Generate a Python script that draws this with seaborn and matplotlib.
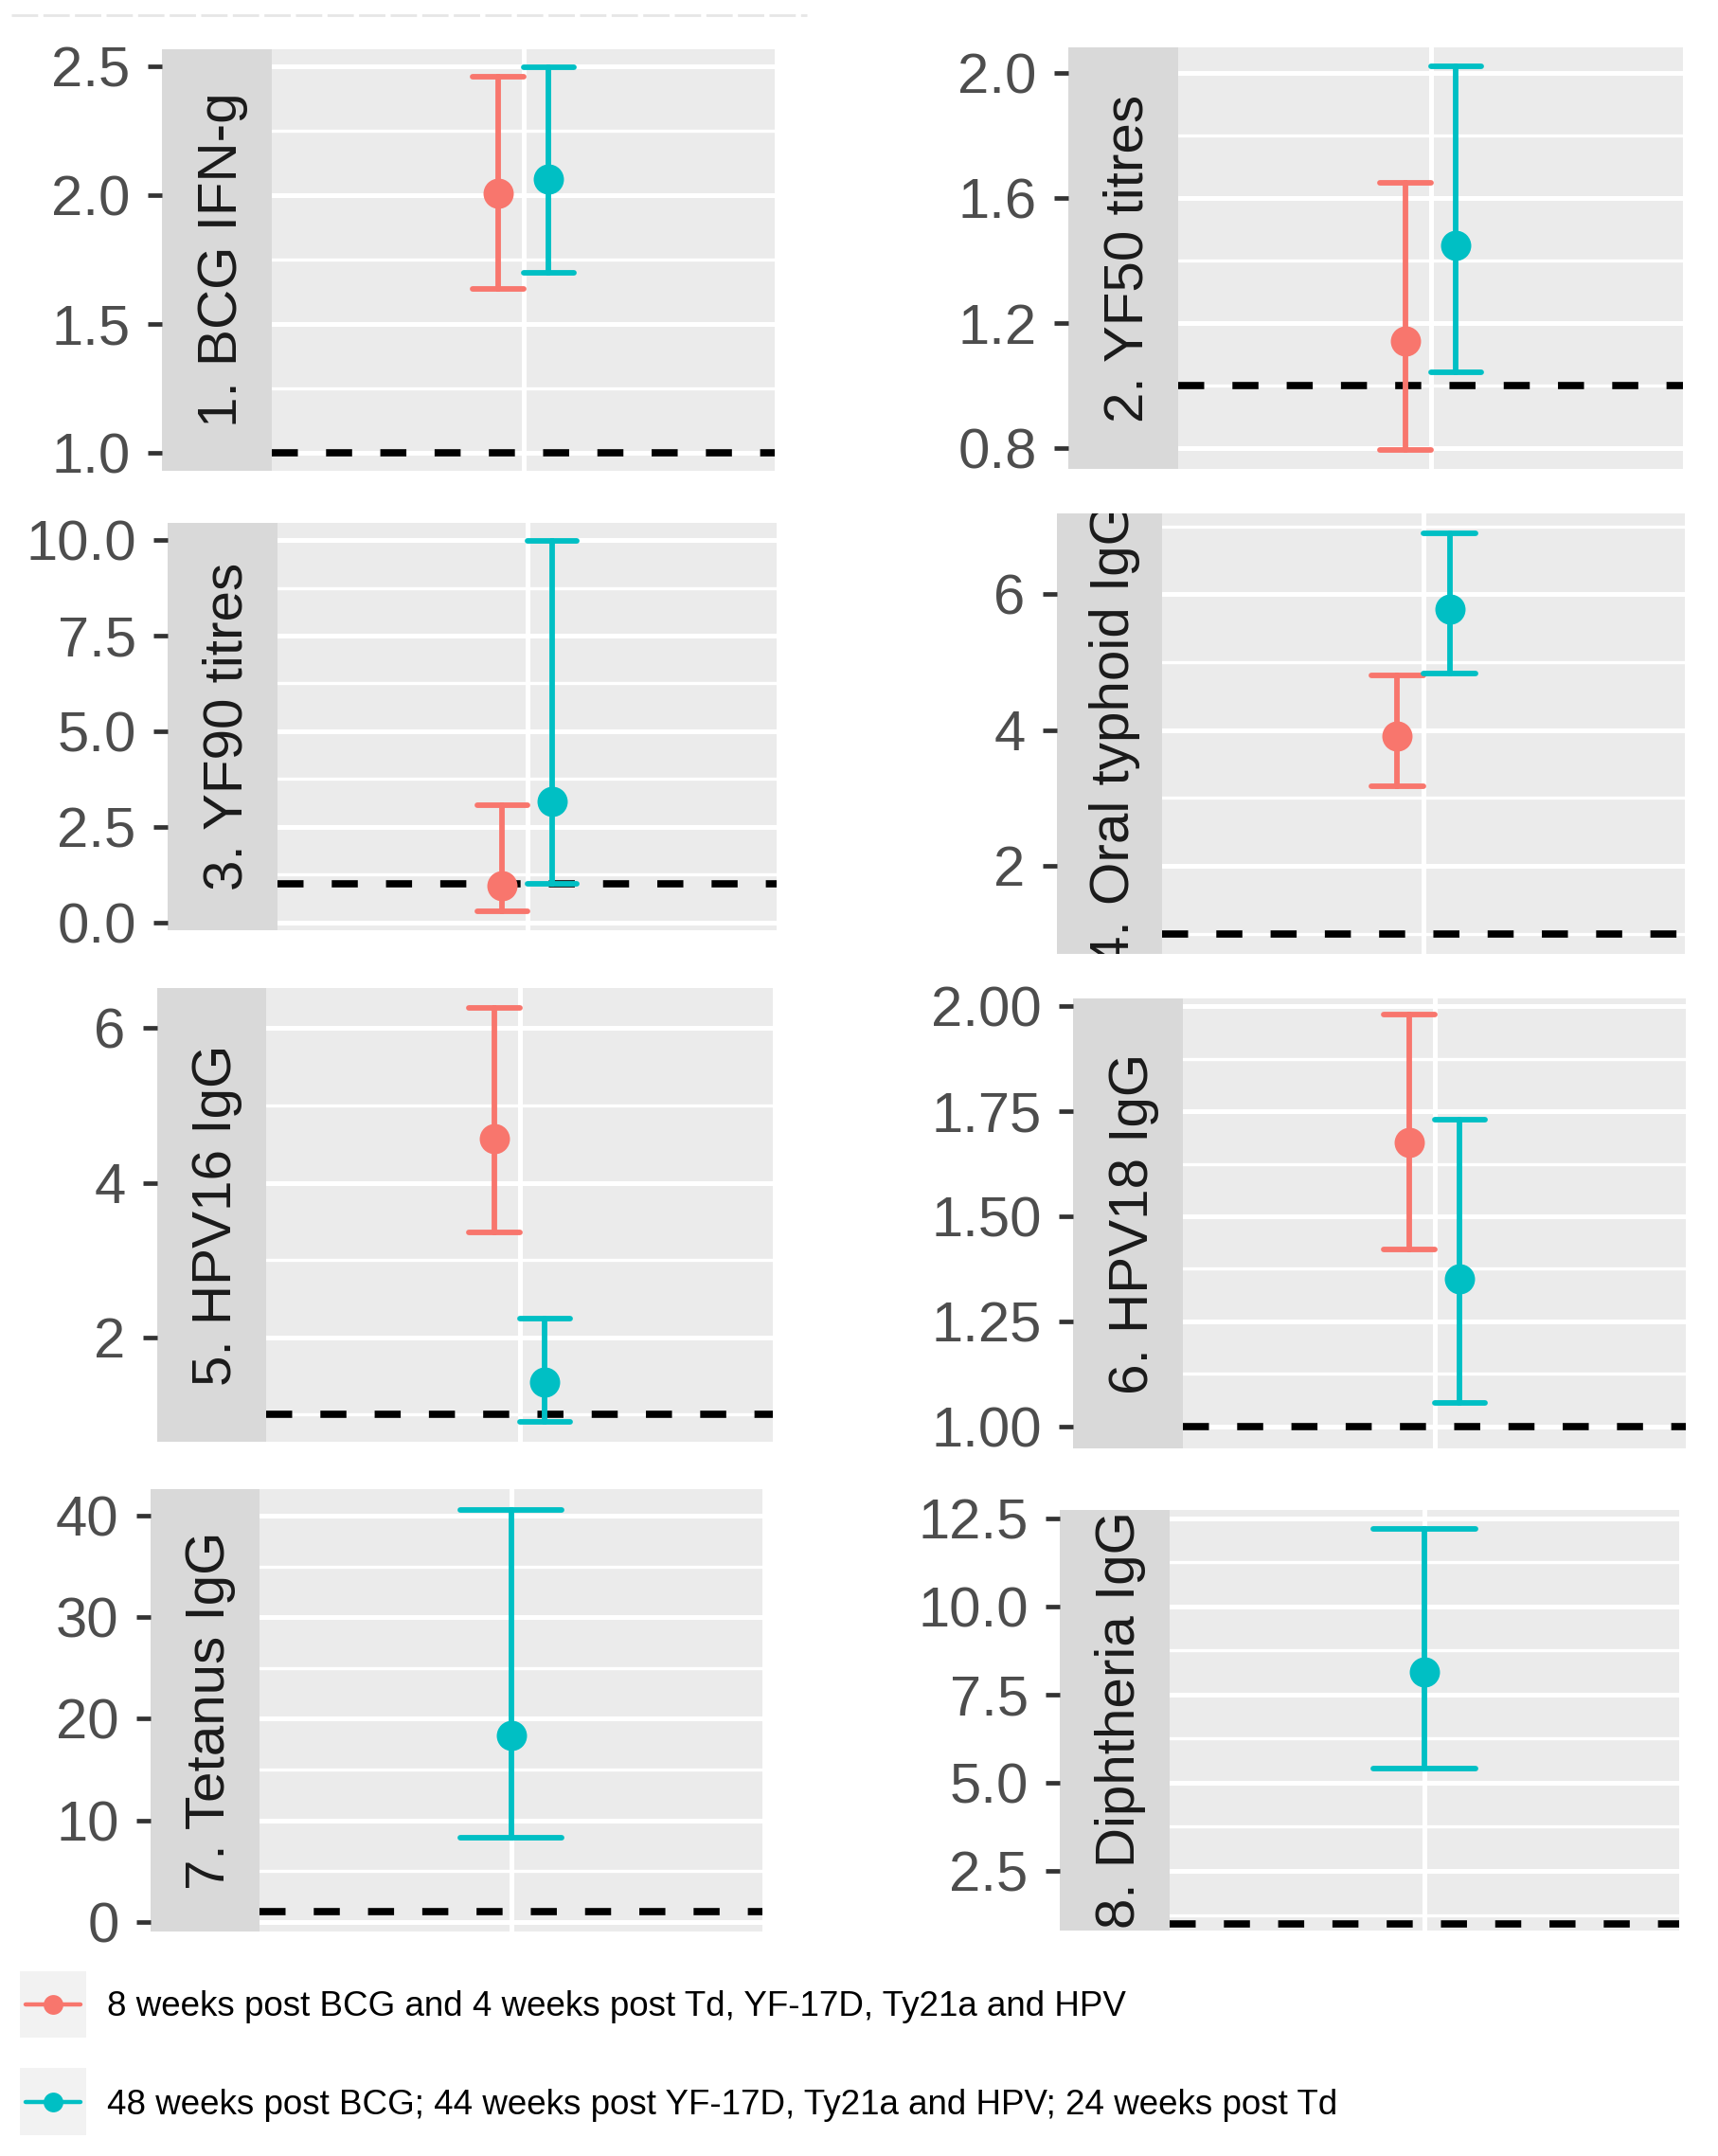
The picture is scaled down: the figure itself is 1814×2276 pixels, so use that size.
import numpy as np
import pandas as pd
import matplotlib
matplotlib.use("Agg")
import matplotlib.pyplot as plt
from matplotlib.ticker import AutoMinorLocator
from matplotlib.lines import Line2D
import seaborn as sns

# ---- data ----
panel_titles = ["1. BCG IFN-g", "2. YF50 titres", "3. YF90 titres", "4. Oral typhoid IgG",
                "5. HPV16 IgG", "6. HPV18 IgG", "7. Tetanus IgG", "8. Diphtheria IgG"]
visit_labels = ["8 weeks post BCG and 4 weeks post Td, YF-17D, Ty21a and HPV",
                "48 weeks post BCG; 44 weeks post YF-17D, Ty21a and HPV; 24 weeks post Td"]

nan = np.nan
wk8_est = [2.01, 1.144, 0.95, 3.91, 4.57, 1.676, nan, nan]
wk8_lo = [1.635, 0.793, 0.28, 3.17, 3.36, 1.42, nan, nan]
wk8_hi = [2.46, 1.649, 3.05, 4.81, 6.26, 1.98, nan, nan]
wk48_est = [2.064, 1.450, 3.15, 5.78, 1.42, 1.352, 18.4, 8.13]
wk48_lo = [1.70, 1.043, 1.00, 4.83, 0.91, 1.055, 8.3, 5.39]
wk48_hi = [2.498, 2.022, 9.98, 6.90, 2.24, 1.729, 40.56, 12.2]
ref_value = 1.0

y_ticks = [[1.0, 1.5, 2.0, 2.5], [0.8, 1.2, 1.6, 2.0], [0.0, 2.5, 5.0, 7.5, 10.0], [2, 4, 6],
           [2, 4, 6], [1.00, 1.25, 1.50, 1.75, 2.00], [0, 10, 20, 30, 40], [2.5, 5.0, 7.5, 10.0, 12.5]]
y_fmt = ["{:.1f}", "{:.1f}", "{:.1f}", "{:.0f}", "{:.0f}", "{:.2f}", "{:.0f}", "{:.1f}"]
y_lims = [(0.929, 2.568), (0.733, 2.083), (-0.21, 10.45), (0.70, 7.19),
          (0.65, 6.52), (0.947, 2.019), (-0.93, 42.6), (0.81, 12.73)]

# ---- layout (pixels in the 1814x2276 canvas): strip left, panel left, panel right, top, bottom ----
W, H = 1814, 2276
boxes = [(171, 287, 818, 52, 497), (1128, 1244, 1777, 50, 495),
         (177, 293, 820, 552, 982), (1116, 1227, 1779, 542, 1007),
         (166, 281, 816, 1043, 1522), (1133, 1249, 1780, 1054, 1529),
         (159, 274, 805, 1572, 2039), (1119, 1235, 1773, 1594, 2038)]

colors = ["#F8766D", "#00BFC4"]
panel_bg = "#EBEBEB"
strip_bg = "#D9D9D9"

sns.set_theme(style="darkgrid", rc={"axes.facecolor": panel_bg, "grid.color": "white"})
plt.rcParams["font.family"] = ["Liberation Sans", "DejaVu Sans"]


def frac(l, r, t, b):
    return [l / W, 1 - b / H, (r - l) / W, (b - t) / H]


fig = plt.figure(figsize=(W / 100, H / 100), dpi=100)
fig.patch.set_facecolor("white")

for i, title in enumerate(panel_titles):
    sl, pl, pr, pt, pb = boxes[i]
    ax = fig.add_axes(frac(pl, pr, pt, pb))

    rows = []
    groups = []
    if not np.isnan(wk8_est[i]):
        groups.append(0)
        for v in (wk8_lo[i], wk8_est[i], wk8_hi[i]):
            rows.append({"assay": title, "visit": visit_labels[0], "value": v})
    groups.append(1)
    for v in (wk48_lo[i], wk48_est[i], wk48_hi[i]):
        rows.append({"assay": title, "visit": visit_labels[1], "value": v})
    df = pd.DataFrame(rows)

    two = len(groups) == 2
    ax.axhline(ref_value, color="black", lw=5.5, linestyle=(0, (3.6, 3.9)), zorder=1.5)
    sns.pointplot(data=df, x="assay", y="value", hue="visit",
                  hue_order=[visit_labels[g] for g in groups],
                  palette=[colors[g] for g in groups],
                  estimator="median", errorbar=lambda v: (v.min(), v.max()),
                  dodge=0.1 if two else False, capsize=0.1 if two else 0.2,
                  linestyle="none", markersize=23, markeredgewidth=0,
                  err_kws={"linewidth": 4.2}, legend=False, ax=ax)

    ax.set_ylim(*y_lims[i])
    ax.set_yticks(y_ticks[i])
    ax.yaxis.set_minor_locator(AutoMinorLocator(2))
    ax.set_xlabel("")
    ax.set_ylabel("")
    ax.set_xticks([0])
    ax.tick_params(axis="x", length=0, labelbottom=False)
    ax.tick_params(axis="y", which="both", length=0, labelleft=False)
    ax.grid(False)
    ax.yaxis.grid(True, which="major", color="white", lw=3.6)
    ax.yaxis.grid(True, which="minor", color="white", lw=2.4)
    ax.xaxis.grid(True, which="major", color="white", lw=3.6)
    ax.set_axisbelow(True)
    for s in ax.spines.values():
        s.set_visible(False)

    # strip on the left, between the axis and the panel
    st = fig.add_axes(frac(sl, pl, pt, pb), sharey=ax)
    st.set_facecolor(strip_bg)
    st.grid(False)
    for s in st.spines.values():
        s.set_visible(False)
    st.set_xticks([])
    st.set_yticks(y_ticks[i], labels=[y_fmt[i].format(t) for t in y_ticks[i]])
    st.tick_params(axis="y", which="major", length=11, width=3.4, color="#333333",
                   pad=13, labelsize=43, labelcolor="#4D4D4D", left=True, labelleft=True)
    st.tick_params(axis="y", which="minor", length=0)
    st.text(0.55, 0.5, title, transform=st.transAxes, rotation=90,
            ha="center", va="center", fontsize=42, color="#1A1A1A", clip_on=True)

# ---- legend ----
key_boxes = [(21, 91, 2081, 2151), (21, 91, 2183, 2254)]
text_y = [2119, 2222]
for k, lab in enumerate(visit_labels):
    kl, kr, kt, kb = key_boxes[k]
    kax = fig.add_axes(frac(kl, kr, kt, kb))
    kax.set_facecolor("#F2F2F2")
    kax.grid(False)
    for s in kax.spines.values():
        s.set_visible(False)
    kax.set_xlim(0, 1)
    kax.set_ylim(0, 1)
    kax.set_xticks([])
    kax.set_yticks([])
    kax.axhline(0.5, xmin=0.08, xmax=0.92, color=colors[k], lw=3.2)
    kax.plot([0.5], [0.5], "o", color=colors[k], markersize=15, markeredgewidth=0)
    fig.text(113 / W, 1 - text_y[k] / H, lab, ha="left", va="center", fontsize=26.5, color="black")

# faint rule at the very top of the reference
fig.add_artist(Line2D([12 / W, 852 / W], [1 - 16 / H, 1 - 16 / H], color="#E6E6E6", lw=2,
                      linestyle=(0, (10, 2))))

fig.savefig("out.png", dpi=100, facecolor="white")
